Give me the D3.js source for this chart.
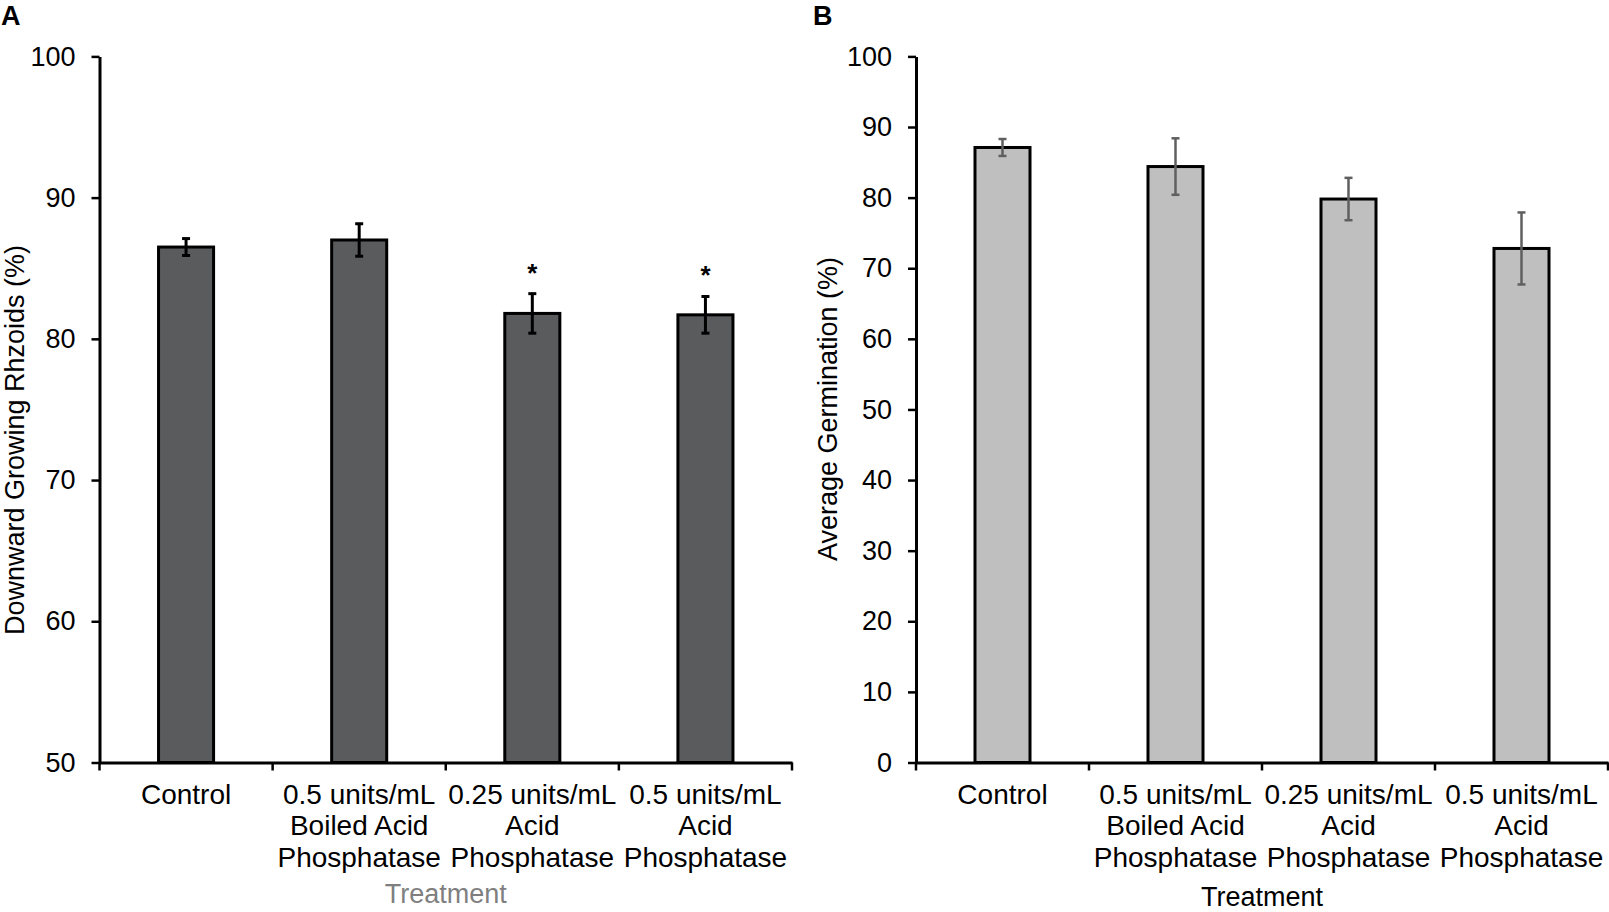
<!DOCTYPE html>
<html>
<head>
<meta charset="utf-8">
<script src="https://cdn.jsdelivr.net/npm/d3@7"></script>
<style>
  html, body { margin: 0; padding: 0; background: #fff; }
  svg { display: block; font-family: "Liberation Sans", Arial, sans-serif; }
</style>
</head>
<body>
<svg id="chart" width="1609" height="912"></svg>
<script>
// ---- data ----
const categories = ["Control", "0.5 Boiled AP", "0.25 AP", "0.5 AP"];
const categoryLines = [
  ["Control"],
  ["0.5 units/mL", "Boiled Acid", "Phosphatase"],
  ["0.25 units/mL", "Acid", "Phosphatase"],
  ["0.5 units/mL", "Acid", "Phosphatase"]
];
const rhizoidMeans = [86.5, 87.0, 81.8, 81.7];
const rhizoidErrors = [0.6, 1.15, 1.4, 1.3];
const rhizoidSignificant = [false, false, true, true];
const germMeans = [87.1, 84.4, 79.8, 72.8];
const germErrors = [1.2, 4.0, 3.0, 5.1];
const rhizoidTicks = [50, 60, 70, 80, 90, 100];
const germTicks = [0, 10, 20, 30, 40, 50, 60, 70, 80, 90, 100];

const svg = d3.select("#chart");

function panel(opts) {
  const g = svg.append("g");
  const x = d3.scaleBand().domain(categories).range([opts.x0, opts.x1])
    .paddingInner(0.682).paddingOuter(0.341);
  const y = d3.scaleLinear().domain(opts.domain).range([opts.yBottom, opts.yTop]);
  const step = x.step();
  const gap = (step - x.bandwidth()) / 2;

  // bars
  g.selectAll("rect.bar").data(opts.means).join("rect")
    .attr("x", (d, i) => x(categories[i]))
    .attr("y", d => y(d))
    .attr("width", x.bandwidth())
    .attr("height", d => y(opts.domain[0]) - y(d))
    .attr("fill", opts.fill)
    .attr("stroke", "#000")
    .attr("stroke-width", 3);

  // error bars
  const eg = g.append("g").attr("stroke", opts.errColor).attr("stroke-width", opts.errWidth).attr("fill", "none");
  opts.means.forEach((m, i) => {
    const cx = x(categories[i]) + x.bandwidth() / 2;
    const e = opts.errors[i];
    eg.append("line").attr("x1", cx).attr("x2", cx).attr("y1", y(m + e)).attr("y2", y(m - e));
    eg.append("line").attr("x1", cx - 4).attr("x2", cx + 4).attr("y1", y(m + e)).attr("y2", y(m + e));
    eg.append("line").attr("x1", cx - 4).attr("x2", cx + 4).attr("y1", y(m - e)).attr("y2", y(m - e));
    if (opts.significant && opts.significant[i]) {
      g.append("text").attr("x", cx).attr("y", y(m + e) - 12)
        .attr("text-anchor", "middle").attr("font-size", 26).attr("font-weight", "bold")
        .attr("fill", "#000").text("*");
    }
  });

  // y axis
  const ya = g.append("g").attr("transform", `translate(${opts.x0},0)`)
    .call(d3.axisLeft(y).tickValues(opts.ticks).tickSize(8).tickSizeOuter(0).tickPadding(16));
  ya.select(".domain").attr("stroke", "#000").attr("stroke-width", 3);
  ya.selectAll(".tick line").attr("stroke", "#000").attr("stroke-width", 2.5);
  ya.selectAll(".tick text").attr("font-size", 27).attr("fill", "#000")
    .attr("font-family", "'Liberation Sans', Arial, sans-serif");

  // x axis
  const xa = g.append("g").attr("transform", `translate(0,${opts.yBottom})`)
    .call(d3.axisBottom(x).tickSize(0).tickSizeOuter(0).tickFormat(""));
  xa.select(".domain").attr("stroke", "#000").attr("stroke-width", 3);
  const bounds = categories.map(c => x(c) - gap).concat([x(categories[categories.length - 1]) + x.bandwidth() + gap]);
  xa.selectAll("line.bound").data(bounds).join("line")
    .attr("class", "bound")
    .attr("x1", d => d).attr("x2", d => d).attr("y1", 0).attr("y2", 8)
    .attr("stroke", "#000").attr("stroke-width", 2.5);

  // category labels
  categoryLines.forEach((lines, i) => {
    const cx = x(categories[i]) + x.bandwidth() / 2;
    const t = g.append("text").attr("text-anchor", "middle").attr("font-size", 28).attr("fill", "#000");
    lines.forEach((ln, j) => {
      t.append("tspan").attr("x", cx).attr("y", opts.yBottom + 41 + j * 31.5).text(ln);
    });
  });

  // axis titles
  g.append("text").attr("x", (opts.x0 + opts.x1) / 2).attr("y", opts.xTitleY)
    .attr("text-anchor", "middle").attr("font-size", 27).attr("fill", opts.xTitleColor).text("Treatment");
  g.append("text").attr("transform", `translate(${opts.yTitleX},${opts.yTitleY}) rotate(-90)`)
    .attr("text-anchor", "middle").attr("font-size", 27).attr("fill", "#000").text(opts.yTitle);

  // panel letter
  g.append("text").attr("x", opts.letterX).attr("y", 25).attr("font-size", 27)
    .attr("font-weight", "bold").attr("fill", "#000").text(opts.letter);
}

panel({
  x0: 99.5, x1: 792, yTop: 56.4, yBottom: 762.5, domain: [50, 100],
  means: rhizoidMeans, errors: rhizoidErrors, significant: rhizoidSignificant,
  ticks: rhizoidTicks, fill: "#5a5b5d", errColor: "#000", errWidth: 3,
  xTitleY: 903, xTitleColor: "#7f7f7f",
  yTitle: "Downward Growing Rhzoids (%)", yTitleX: 24, yTitleY: 440,
  letter: "A", letterX: 1
});

panel({
  x0: 916, x1: 1608, yTop: 56.4, yBottom: 762.5, domain: [0, 100],
  means: germMeans, errors: germErrors, significant: null,
  ticks: germTicks, fill: "#bfbfbf", errColor: "#5f5f5f", errWidth: 2.5,
  xTitleY: 906, xTitleColor: "#000",
  yTitle: "Average Germination (%)", yTitleX: 837, yTitleY: 409,
  letter: "B", letterX: 813
});
</script>
</body>
</html>
